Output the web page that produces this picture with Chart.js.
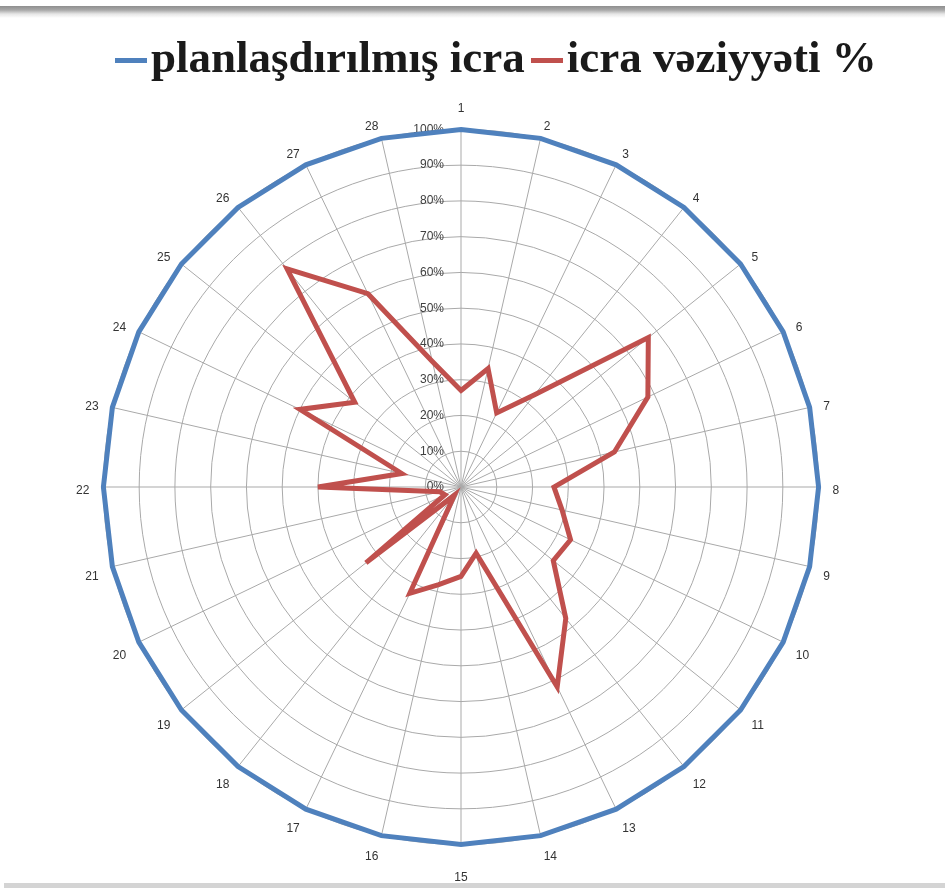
<!DOCTYPE html>
<html><head><meta charset="utf-8">
<script src="https://cdn.jsdelivr.net/npm/chart.js@4"></script>
<style>
html,body{margin:0;padding:0;background:#fff;width:945px;height:888px;overflow:hidden;}
#wrap{position:relative;width:945px;height:888px;}
#topline{position:absolute;left:0;top:6px;width:945px;height:12px;background:linear-gradient(#8e8e8e 0,#a8a8a8 4px,#e6e6e6 8px,#fff 12px);}
#bottomline{position:absolute;left:4px;right:0;bottom:0;height:5px;background:#d4d4d4;}
#legend{position:absolute;left:115px;top:32px;height:50px;display:flex;align-items:center;font-family:"Liberation Serif","Times New Roman",serif;font-weight:bold;font-size:45px;color:#1a1a1a;white-space:nowrap;z-index:2;}
.mk{display:inline-block;width:32px;height:5px;margin-right:4px;position:relative;top:3px;}
.item{display:flex;align-items:center;margin-right:6px;}
canvas{position:absolute;left:0;top:0;}
</style></head>
<body>
<div id="wrap">
<canvas id="c" width="945" height="888"></canvas>
<div id="topline"></div>
<div id="legend"></div>
<div id="bottomline"></div>
</div>
<script>
const categories = ['1','2','3','4','5','6','7','8','9','10','11','12','13','14','15','16','17','18','19','20','21','22','23','24','25','26','27','28'];
const seriesNames = ['planlaşdırılmış icra', 'icra vəziyyəti %'];
const plannedValues = [100,100,100,100,100,100,100,100,100,100,100,100,100,100,100,100,100,100,100,100,100,100,100,100,100,100,100,100];
const actualValues = [27,34,23,33,67,58,44,26,29,34,33,47,62,19,25,28,33,3,34,5,6,40,17,50,38,78,60,36];
const tickValues = [0,10,20,30,40,50,60,70,80,90,100];
const tickLabels = ['0%','10%','20%','30%','40%','50%','60%','70%','80%','90%','100%'];
const seriesColors = ['#4f81bd', '#c0504d'];

const labelPlugin = {
  id: 'excelLabels',
  beforeDatasetsDraw(chart) {
    const s = chart.scales.r;
    const ctx = chart.ctx;
    ctx.save();
    ctx.font = '12px "Liberation Sans", Arial, sans-serif';
    ctx.fillStyle = '#404040';
    ctx.textAlign = 'right';
    ctx.textBaseline = 'middle';
    tickValues.forEach((v, i) => {
      const d = s.getDistanceFromCenterForValue(v);
      ctx.fillText(tickLabels[i], s.xCenter - 17, s.yCenter - d);
    });
    ctx.fillStyle = '#333';
    const n = categories.length;
    categories.forEach((lab, i) => {
      const pos = s.getPointPosition(i, s.drawingArea + 14);
      const deg = Math.round(i * 360 / n);
      let align = 'center';
      if (deg > 0 && deg < 180) align = 'left';
      else if (deg > 180) align = 'right';
      ctx.textAlign = align;
      let y;
      if (deg === 0) y = pos.y - 7;
      else if (deg === 180) y = pos.y + 19;
      else if (deg < 90 || deg > 270) y = pos.y + 2;
      else if (deg === 90 || deg === 270) y = pos.y + 4;
      else y = pos.y + 7;
      ctx.fillText(lab, pos.x, y);
    });
    ctx.restore();
  }
};

const chart = new Chart(document.getElementById('c'), {
  type: 'radar',
  data: {
    labels: categories,
    datasets: [
      { label: seriesNames[0], data: plannedValues, borderColor: seriesColors[0], backgroundColor: seriesColors[0], borderWidth: 5, fill: false, pointRadius: 0, pointHoverRadius: 0, tension: 0 },
      { label: seriesNames[1], data: actualValues, borderColor: seriesColors[1], backgroundColor: seriesColors[1], borderWidth: 5, fill: false, pointRadius: 0, pointHoverRadius: 0, tension: 0 }
    ]
  },
  options: {
    responsive: false,
    animation: false,
    layout: { padding: { top: 101, bottom: 14, left: 11, right: 34 } },
    plugins: { legend: { display: false }, tooltip: { enabled: false } },
    scales: {
      r: {
        min: 0, max: 100,
        ticks: { stepSize: 10, display: false },
        grid: { circular: true, color: '#a9a9a9', lineWidth: 1 },
        angleLines: { display: true, color: '#a9a9a9', lineWidth: 1 },
        pointLabels: { display: true, color: 'rgba(0,0,0,0)', font: { size: 12, family: '"Liberation Sans", Arial, sans-serif' }, padding: 14 }
      }
    }
  },
  plugins: [labelPlugin]
});

const legend = document.getElementById('legend');
seriesNames.forEach((name, i) => {
  const it = document.createElement('span');
  it.className = 'item';
  const mk = document.createElement('span');
  mk.className = 'mk';
  mk.style.background = seriesColors[i];
  it.appendChild(mk);
  it.appendChild(document.createTextNode(name));
  legend.appendChild(it);
});
</script>
</body></html>
